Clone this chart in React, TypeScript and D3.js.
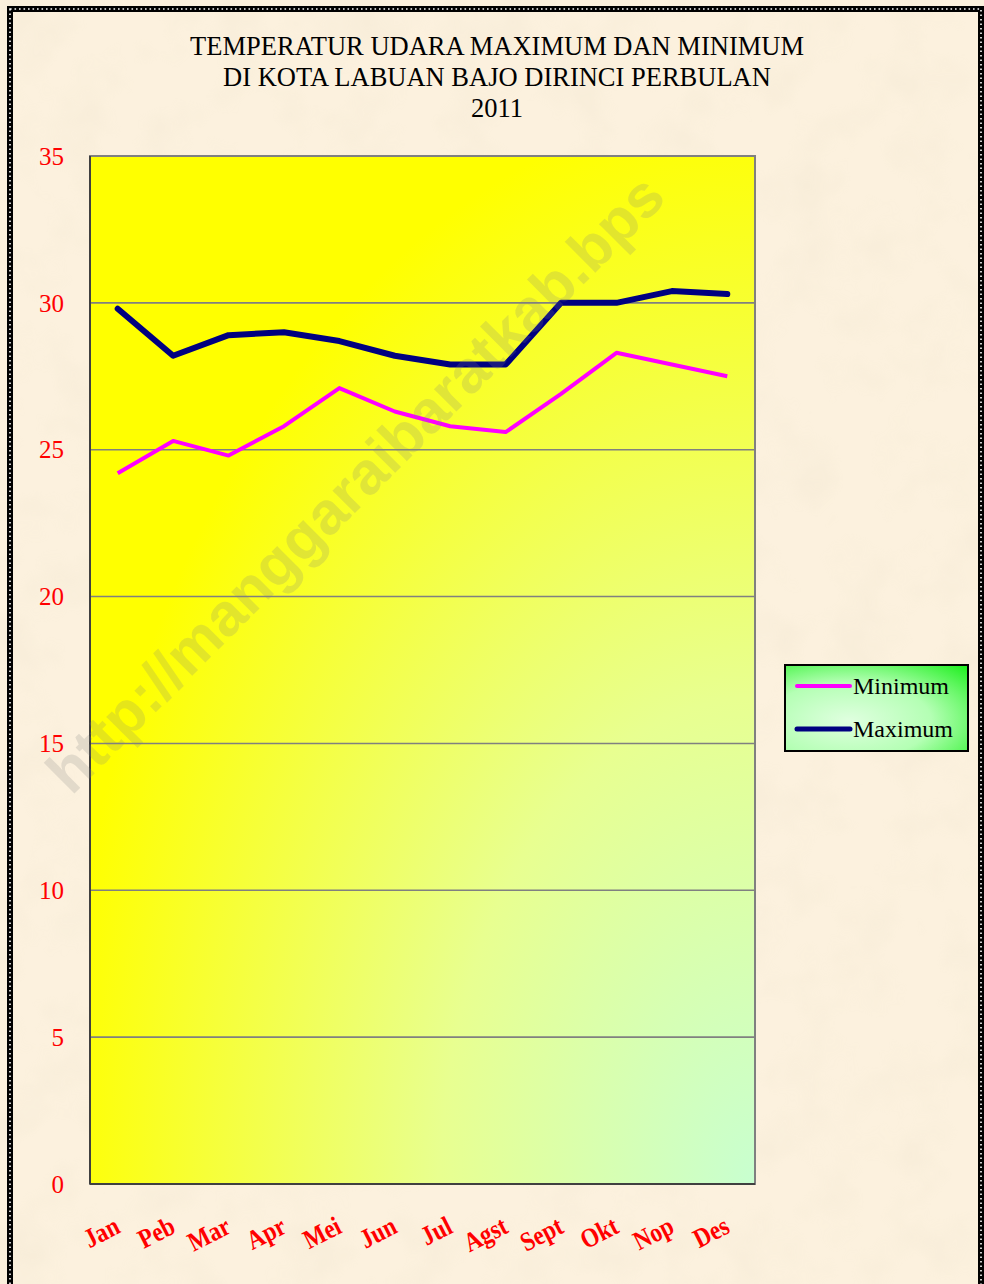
import * as d3 from "d3";

// bulan (kategori sumbu x)
const months = ["Jan", "Peb", "Mar", "Apr", "Mei", "Jun", "Jul", "Agst", "Sept", "Okt", "Nop", "Des"];
// suhu minimum & maximum per bulan (°C)
const minimum = [24.2, 25.3, 24.8, 25.8, 27.1, 26.3, 25.8, 25.6, 26.9, 28.3, 27.9, 27.5];
const maximum = [29.8, 28.2, 28.9, 29.0, 28.7, 28.2, 27.9, 27.9, 30.0, 30.0, 30.4, 30.3];
const yTicks = [0, 5, 10, 15, 20, 25, 30, 35];
const titleLines = [
  "TEMPERATUR UDARA MAXIMUM DAN MINIMUM",
  "DI KOTA LABUAN BAJO DIRINCI PERBULAN",
  "2011",
];
const seriesNames = ["Minimum", "Maximum"];
const watermark = "http://manggaraibaratkab.bps";

const W = 984,
  H = 1284;
const plot = { left: 90, right: 755, top: 156, bottom: 1184 };

const App = () => {
  const x = d3.scalePoint<string>().domain(months).range([plot.left, plot.right]).padding(0.5);
  const y = d3.scaleLinear().domain([0, 35]).range([plot.bottom, plot.top]);

  const line = d3
    .line<number>()
    .x((d, i) => x(months[i]) as number)
    .y((d) => y(d));

  const serif = "'Liberation Serif', 'Times New Roman', serif";
  const sans = "'Liberation Sans', Arial, sans-serif";

  return (
    <svg width={W} height={H} style={{ position: "absolute", left: 0, top: 0 }}>
      <defs>
        <filter id="paper" x="0" y="0" width="100%" height="100%">
          <feTurbulence type="fractalNoise" baseFrequency="0.018" numOctaves="3" seed="4" />
          <feColorMatrix
            type="matrix"
            values="0 0 0 0 0.88  0 0 0 0 0.80  0 0 0 0 0.64  0 0 0 -2.2 1.25"
          />
        </filter>
        <radialGradient id="plotBg" cx="1" cy="1" r="1.05" gradientUnits="objectBoundingBox">
          <stop offset="0" stopColor="#c8ffd0" />
          <stop offset="0.45" stopColor="#e8ff90" />
          <stop offset="1" stopColor="#ffff00" />
        </radialGradient>
        <radialGradient id="legendBg" cx="0.35" cy="0.65" r="0.9">
          <stop offset="0" stopColor="#e0ffe0" />
          <stop offset="0.5" stopColor="#b4ffb4" />
          <stop offset="1" stopColor="#20f020" />
        </radialGradient>
      </defs>

      {/* latar kertas */}
      <rect x={0} y={0} width={W} height={H} fill="#fcf1de" />
      <rect x={0} y={0} width={W} height={H} filter="url(#paper)" opacity={0.35} />

      {/* bingkai titik-titik */}
      <rect x={10} y={9} width={971} height={1300} fill="none" stroke="#000" strokeWidth={6} />
      <rect
        x={10}
        y={9}
        width={971}
        height={1300}
        fill="none"
        stroke="#fff"
        strokeWidth={1.6}
        strokeDasharray="1.6 2.9"
      />

      {/* judul */}
      <text x={497} y={55} textAnchor="middle" fontFamily={serif} fontSize={26.5} fill="#000">
        {titleLines.map((t, i) => (
          <tspan key={i} x={497} dy={i === 0 ? 0 : 31}>
            {t}
          </tspan>
        ))}
      </text>

      {/* area plot */}
      <rect
        x={plot.left}
        y={plot.top}
        width={plot.right - plot.left}
        height={plot.bottom - plot.top}
        fill="url(#plotBg)"
        stroke="#808080"
        strokeWidth={2}
      />
      {yTicks
        .filter((t) => t > 0 && t < 35)
        .map((t) => (
          <line key={t} x1={plot.left} x2={plot.right} y1={y(t)} y2={y(t)} stroke="#808080" strokeWidth={1.6} />
        ))}
      <line x1={plot.left} x2={plot.left} y1={plot.top} y2={plot.bottom} stroke="#404040" strokeWidth={2} />
      <line x1={plot.left} x2={plot.right} y1={plot.bottom} y2={plot.bottom} stroke="#404040" strokeWidth={2} />

      {/* label sumbu y */}
      {yTicks.map((t) => (
        <text
          key={t}
          x={64}
          y={y(t)}
          dy="0.35em"
          textAnchor="end"
          fontFamily={serif}
          fontSize={25}
          fill="#ff0000"
        >
          {t}
        </text>
      ))}

      {/* label sumbu x */}
      {months.map((m) => {
        const px = (x(m) as number) + 4;
        const py = 1232;
        return (
          <text
            key={m}
            transform={`translate(${px},${py}) rotate(-27) scale(0.86,1)`}
            textAnchor="end"
            fontFamily={serif}
            fontWeight="bold"
            fontSize={27}
            fill="#ff0000"
          >
            {m}
          </text>
        );
      })}

      {/* garis data */}
      <path d={line(minimum) || ""} fill="none" stroke="#ff00ff" strokeWidth={4} strokeLinejoin="round" />
      <path
        d={line(maximum) || ""}
        fill="none"
        stroke="#000080"
        strokeWidth={6}
        strokeLinejoin="round"
        strokeLinecap="round"
      />

      {/* watermark */}
      <text
        x={668}
        y={200}
        transform="rotate(-45 668 200)"
        textAnchor="end"
        fontFamily={sans}
        fontWeight="bold"
        fontSize={60}
        fill="#808080"
        opacity={0.2}
      >
        {watermark}
      </text>

      {/* legenda */}
      <rect x={785} y={665} width={183} height={86} fill="url(#legendBg)" stroke="#000" strokeWidth={2} />
      {seriesNames.map((s, i) => {
        const ly = 686 + i * 43;
        return (
          <g key={s}>
            <line
              x1={797}
              x2={850}
              y1={ly}
              y2={ly}
              stroke={i === 0 ? "#ff00ff" : "#000080"}
              strokeWidth={i === 0 ? 4 : 5}
              strokeLinecap="round"
            />
            <text x={853} y={ly} dy="0.35em" fontFamily={serif} fontSize={24} fill="#000">
              {s}
            </text>
          </g>
        );
      })}
    </svg>
  );
};

export default App;
